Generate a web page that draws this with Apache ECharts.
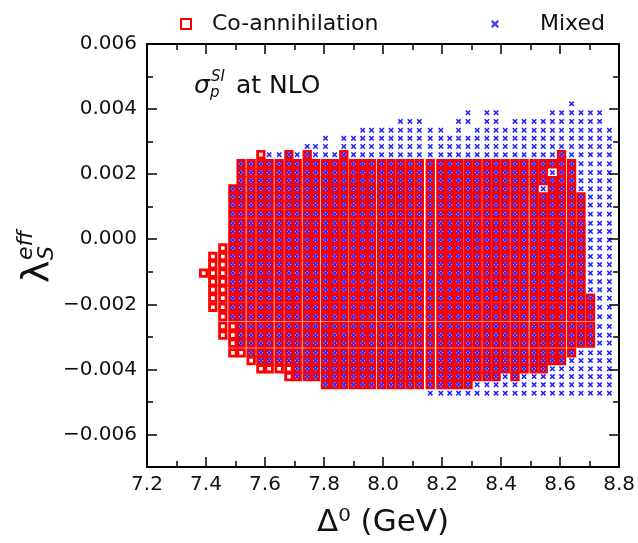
<!DOCTYPE html>
<html><head><meta charset="utf-8">
<script src="https://cdn.jsdelivr.net/npm/echarts@6/dist/echarts.min.js"></script>
<style>html,body{margin:0;padding:0;background:#fff}#c{width:638px;height:543px}</style>
</head><body><div id="c"></div>
<script>
// ---- data ----
const seriesNames = ['Co-annihilation', 'Mixed'];
const xTicks = [7.2, 7.4, 7.6, 7.8, 8.0, 8.2, 8.4, 8.6, 8.8];
const yTicks = [-0.006, -0.004, -0.002, 0.000, 0.002, 0.004, 0.006];
const yMinorTicks = [-0.007, -0.005, -0.003, -0.001, 0.001, 0.003, 0.005];
// scan columns (Delta^0, GeV)
const xValues = [7.392, 7.423, 7.457, 7.491, 7.519, 7.553, 7.586, 7.614, 7.648, 7.681,
  7.709, 7.743, 7.771, 7.805, 7.836, 7.867, 7.900, 7.931, 7.961, 7.995,
  8.027, 8.059, 8.091, 8.123, 8.160, 8.196, 8.226, 8.256, 8.288, 8.319,
  8.352, 8.383, 8.414, 8.447, 8.478, 8.512, 8.543, 8.574, 8.605, 8.639,
  8.671, 8.703, 8.734, 8.767];
// scan rows (lambda_S^eff), top to bottom
const yValues = [0.00416, 0.00389, 0.00362, 0.00335, 0.00310, 0.00285, 0.00260, 0.00232, 0.00205, 0.00180,
  0.00155, 0.00130, 0.00105, 0.00077, 0.00049, 0.00024, -0.00002, -0.00027, -0.00053, -0.00078,
  -0.00104, -0.00130, -0.00155, -0.00181, -0.00209, -0.00238, -0.00268, -0.00295, -0.00319, -0.00349,
  -0.00373, -0.00398, -0.00422, -0.00447, -0.00473];
// r = Co-annihilation only, b = Mixed only, x = both, . = none (one row per yValue, one char per xValue)
const rowMasks = [
  '..........|..........|..........|.........b|....',
  '..........|..........|........b.|bb.....bbb|bbb.',
  '..........|..........|.bbb...bb.|bb.bbbbbbb|bbb.',
  '..........|.......bbb|bbbbbb.b.b|bbbbbbbbbb|bbbb',
  '..........|...b.bbbbb|bbbbbbbbbb|bbbbbbbbbb|bbbb',
  '..........|.bbb.bbbbb|bbbbbbbbbb|bbbbbbbbbb|bbbb',
  '......rbbx|bxbbbxbbbb|bbbbbbbbbb|bbbbbbbbxb|bbbb',
  '....xxxxxx|xxxxxxxxxx|xxxxxxxxxx|xxxxxxxxxx|bbbb',
  '....xxxxxx|xxxxxxxxxx|xxxxxxxxxx|xxxxxxxbxx|bbbb',
  '....xxxxxx|xxxxxxxxxx|xxxxxxxxxx|xxxxxxxxxx|bbbb',
  '...xxxxxxx|xxxxxxxxxx|xxxxxxxxxx|xxxxxxbxxx|bbbb',
  '...xxxxxxx|xxxxxxxxxx|xxxxxxxxxx|xxxxxxxxxx|xbbb',
  '...xxxxxxx|xxxxxxxxxx|xxxxxxxxxx|xxxxxxxxxx|xbbb',
  '...xxxxxxx|xxxxxxxxxx|xxxxxxxxxx|xxxxxxxxxx|xbbb',
  '...xxxxxxx|xxxxxxxxxx|xxxxxxxxxx|xxxxxxxxxx|xbbb',
  '...xxxxxxx|xxxxxxxxxx|xxxxxxxxxx|xxxxxxxxxx|xbbb',
  '...xxxxxxx|xxxxxxxxxx|xxxxxxxxxx|xxxxxxxxxx|xbbb',
  '..rxxxxxxx|xxxxxxxxxx|xxxxxxxxxx|xxxxxxxxxx|xbbb',
  '.rrxxxxxxx|xxxxxxxxxx|xxxxxxxxxx|xxxxxxxxxx|xbbb',
  '.rrxxxxxxx|xxxxxxxxxx|xxxxxxxxxx|xxxxxxxxxx|xbbb',
  'rrrxxxxxxx|xxxxxxxxxx|xxxxxxxxxx|xxxxxxxxxx|xbbb',
  '.rrxxxxxxx|xxxxxxxxxx|xxxxxxxxxx|xxxxxxxxxx|xbbb',
  '.rrxxxxxxx|xxxxxxxxxx|xxxxxxxxxx|xxxxxxxxxx|xbbb',
  '.rrxxxxxxx|xxxxxxxxxx|xxxxxxxxxx|xxxxxxxxxx|xxbb',
  '.rrxxxxxxx|xxxxxxxxxx|xxxxxxxxxx|xxxxxxxxxx|xxbb',
  '..rxxxxxxx|xxxxxxxxxx|xxxxxxxxxx|xxxxxxxxxx|xxbb',
  '..rrxxxxxx|xxxxxxxxxx|xxxxxxxxxx|xxxxxxxxxx|xxbb',
  '..rrxxxxxx|xxxxxxxxxx|xxxxxxxxxx|xxxxxxxxxx|xxbb',
  '...rxxxxxx|xxxxxxxxxx|xxxxxxxxxx|xxxxxxxxxx|xxbb',
  '...rrxxxxx|xxxxxxxxxx|xxxxxxxxxx|xxxxxxxxxx|bbbb',
  '.....rxxxx|xxxxxxxxxx|xxxxxxxxxx|xxxxxxxxxb|bbbb',
  '......rrrr|xxxxxxxxxx|xxxxxxxxxx|xxxxxxxbbb|bbbb',
  '.........r|xxxxxxxxxx|xxxxxxxxxx|xxbxbbbbbb|bbbb',
  '..........|...xxxxxxx|xxxxxxxxxb|bbbbbbbbbb|bbbb',
  '..........|..........|....bbbbbb|bbbbbbbbbb|bbbb'
];

// ---- build point lists ----
const coPts = [], mixPts = [];
rowMasks.forEach((m, j) => {
  const s = m.replace(/\|/g, '');
  for (let i = 0; i < s.length; i++) {
    const c = s[i];
    if (c === 'r' || c === 'x') coPts.push([xValues[i], yValues[j]]);
    if (c === 'b' || c === 'x') mixPts.push([xValues[i], yValues[j]]);
  }
});

const FONT = 'DejaVu Sans';
const TXT = '#111';
const XPATH = 'path://M0,2 L2,0 L5,3 L8,0 L10,2 L7,5 L10,8 L8,10 L5,7 L2,10 L0,8 L3,5 Z';
const axLine = {show: true, onZero: false, lineStyle: {color: '#000', width: 2}};
const fmtY = v => {
  const r = Math.round(v * 1000);
  if (r % 2 !== 0) return '';
  return (r < 0 ? '\u2212' : '') + Math.abs(r / 1000).toFixed(3);
};

function xAx(pos, showLabel) {
  return {
    type: 'value', position: pos, min: 7.2, max: 8.8, interval: 0.2,
    axisLine: axLine,
    axisTick: {show: true, inside: true, length: 10, lineStyle: {color: '#000', width: 1.5}},
    minorTick: {show: true, splitNumber: 2, length: 6, lineStyle: {color: '#000', width: 1.5}},
    axisLabel: {show: showLabel, fontFamily: FONT, fontSize: 20, color: TXT, margin: 8,
      formatter: v => v.toFixed(1)},
    splitLine: {show: false}, minorSplitLine: {show: false}, z: 10
  };
}
function yAx(pos, major, showLabel) {
  return {
    type: 'value', position: pos, offset: 0, min: -0.007, max: 0.006, interval: 0.001,
    axisLine: major ? axLine : {show: false, onZero: false},
    axisTick: {show: true, inside: true, length: major ? 10 : 6,
      customValues: major ? yTicks : yMinorTicks,
      lineStyle: {color: '#000', width: 1.5}},
    axisLabel: {show: showLabel, fontFamily: FONT, fontSize: 20, color: TXT, margin: 10,
      customValues: yTicks, formatter: fmtY},
    splitLine: {show: false}, z: 10
  };
}

const xa = xAx('bottom', true);
xa.name = '\u0394\u2070 (GeV)';
xa.nameLocation = 'middle';
xa.nameGap = 40;
xa.nameTextStyle = {fontFamily: FONT, fontSize: 31, color: TXT};

const option = {
  animation: false,
  backgroundColor: '#fff',
  grid: {left: 147, right: 16, top: 44, bottom: 65, containLabel: false},
  legend: [
    {data: [{name: seriesNames[0], icon: 'rect',
      itemStyle: {color: 'rgba(0,0,0,0)', borderColor: '#ff0000', borderWidth: 2}}],
     left: 175, top: 8, itemWidth: 10, itemHeight: 10, selectedMode: false,
     textStyle: {fontFamily: FONT, fontSize: 22, color: TXT, padding: [0, 0, 0, 16]}},
    {data: [{name: seriesNames[1], icon: XPATH, itemStyle: {color: '#3a3aff'}}],
     left: 486, top: 8, itemWidth: 8, itemHeight: 8, selectedMode: false,
     textStyle: {fontFamily: FONT, fontSize: 22, color: TXT, padding: [0, 0, 0, 36]}}
  ],
  xAxis: [xa, xAx('top', false)],
  yAxis: [yAx('left', true, true), yAx('left', false, false), yAx('right', true, false), yAx('right', false, false)],
  series: [
    {type: 'scatter', name: seriesNames[0], data: coPts, symbol: 'rect', symbolSize: 6.5,
     xAxisIndex: 0, yAxisIndex: 0, silent: true, z: 2,
     itemStyle: {color: 'rgba(0,0,0,0)', borderColor: '#ff0000', borderWidth: 2.8, opacity: 1}},
    {type: 'scatter', name: seriesNames[1], data: mixPts, symbol: XPATH, symbolSize: 5.5,
     xAxisIndex: 0, yAxisIndex: 0, silent: true, z: 3,
     itemStyle: {color: '#2222ff', opacity: 1}}
  ],
  graphic: [
    {type: 'group', x: 38, y: 283, rotation: Math.PI / 2, children: [
      {type: 'text', x: 0, y: 0, style: {text: '\u03bb', fontFamily: FONT, fontSize: 38, fill: TXT, align: 'left', verticalAlign: 'middle'}},
      {type: 'text', x: 23, y: 9, style: {text: 'S', fontFamily: FONT, fontStyle: 'italic', fontSize: 22, fill: TXT, align: 'left', verticalAlign: 'middle'}},
      {type: 'text', x: 23, y: -12, style: {text: 'eff', fontFamily: FONT, fontStyle: 'italic', fontSize: 22, fill: TXT, align: 'left', verticalAlign: 'middle'}}
    ]},
    {type: 'text', x: 194, y: 86, style: {text: '\u03c3', fontFamily: FONT, fontStyle: 'italic', fontSize: 25, fill: TXT, align: 'left', verticalAlign: 'middle'}},
    {type: 'text', x: 211, y: 77, style: {text: 'SI', fontFamily: FONT, fontStyle: 'italic', fontSize: 15, fill: TXT, align: 'left', verticalAlign: 'middle'}},
    {type: 'text', x: 210, y: 93, style: {text: 'p', fontFamily: FONT, fontStyle: 'italic', fontSize: 15, fill: TXT, align: 'left', verticalAlign: 'middle'}},
    {type: 'text', x: 236, y: 86, style: {text: 'at NLO', fontFamily: FONT, fontSize: 25, fill: TXT, align: 'left', verticalAlign: 'middle'}}
  ]
};
const chart = echarts.init(document.getElementById('c'), null, {renderer: 'canvas'});
chart.setOption(option);
</script></body></html>
